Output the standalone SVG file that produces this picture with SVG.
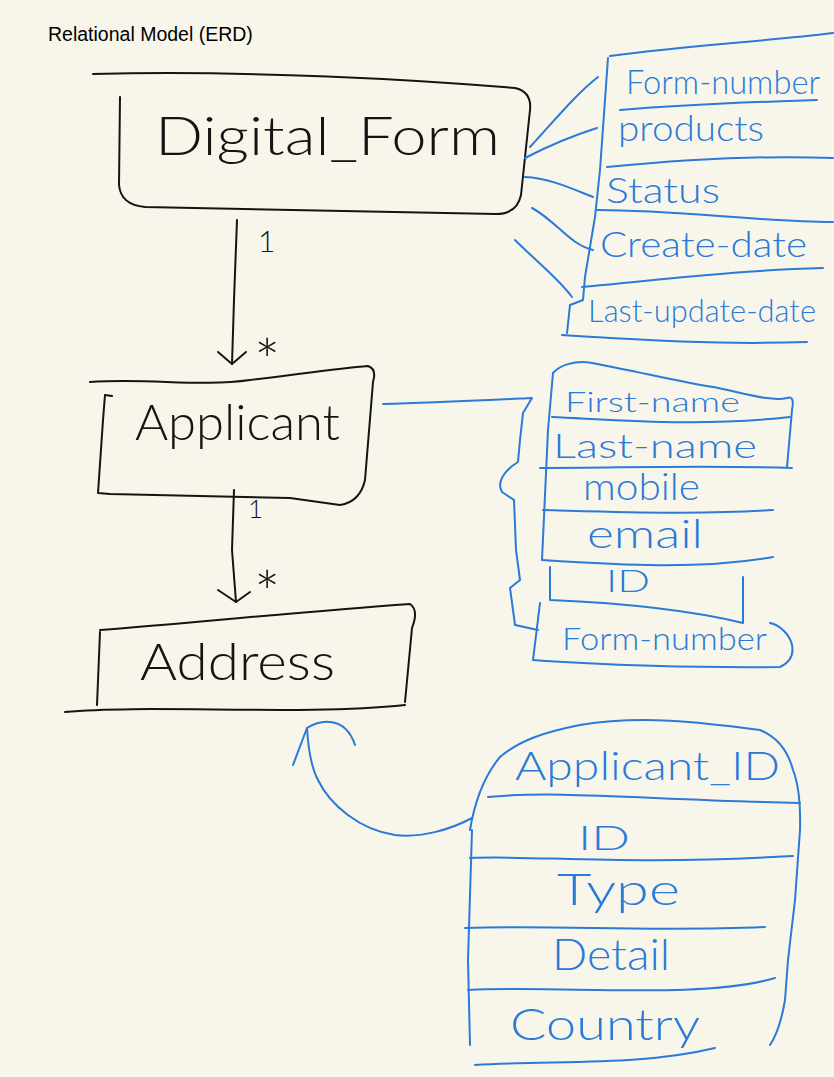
<svg xmlns="http://www.w3.org/2000/svg" width="834" height="1077" viewBox="0 0 834 1077">
<style>
.k{fill:none;stroke:#141414;stroke-width:2;stroke-linecap:round;stroke-linejoin:round}
.b{fill:none;stroke:#2a7ad8;stroke-width:2;stroke-linecap:round;stroke-linejoin:round}
.kt{font-family:Lato,"Liberation Sans",sans-serif;font-weight:300;fill:#141414}
.bt{font-family:Lato,"Liberation Sans",sans-serif;font-weight:300;fill:#2a7ad8}
.title{font-family:"Liberation Sans",Arial,sans-serif;font-size:19.5px;fill:#000}
</style>
<rect width="834" height="1077" fill="#f8f6eb"/>
<text class="title" x="48" y="41">Relational Model (ERD)</text>

<g id="digital_form">
<path class="k" d="M93,74 C250,70 420,80 515,88 Q532,92 530,110 L521,195 Q517,214 496,214 L145,207 Q121,205 119,185 L120,97"/>
<text class="kt" x="155" y="155" font-size="54" textLength="345" lengthAdjust="spacingAndGlyphs">Digital_Form</text>
</g>

<g id="applicant">
<path class="k" d="M90,382 C150,378 200,387 250,380 C300,374 340,368 368,366 Q377,369 373,382 L365,480 Q360,502 340,505 L290,498 L110,494 L98,493 L103,420"/>
<path class="k" d="M112,396 L105,395 L103,420"/>
<text class="kt" x="135" y="440" font-size="50" textLength="205" lengthAdjust="spacingAndGlyphs">Applicant</text>
</g>

<g id="address">
<path class="k" d="M100,630 C200,622 300,612 410,604 Q419,610 412,628 L405,702"/>
<path class="k" d="M100,632 L97,705"/>
<path class="k" d="M65,712 C150,704 300,716 405,705"/>
<text class="kt" x="140" y="680" font-size="52" textLength="195" lengthAdjust="spacingAndGlyphs">Address</text>
</g>

<g id="df_attrs">
<path class="b" d="M610,56 C690,45 760,42 833,33"/>
<path class="b" d="M608,58 L600,170 L595,217 L585,277 L583,300 L570,305 L567,333"/>
<path class="b" d="M620,110 C680,105 750,102 817,100"/>
<path class="b" d="M607,167 C680,160 760,155 833,158"/>
<path class="b" d="M597,210 C680,210 760,222 833,222"/>
<path class="b" d="M582,287 C660,280 740,270 823,268"/>
<path class="b" d="M562,335 C640,340 720,345 807,342"/>
<text class="bt" x="626" y="94" font-size="33" textLength="194" lengthAdjust="spacingAndGlyphs">Form-number</text>
<text class="bt" x="618" y="141" font-size="36" textLength="146" lengthAdjust="spacingAndGlyphs">products</text>
<text class="bt" x="606" y="203" font-size="36" textLength="114" lengthAdjust="spacingAndGlyphs">Status</text>
<text class="bt" x="600" y="257" font-size="36" textLength="207" lengthAdjust="spacingAndGlyphs">Create-date</text>
<text class="bt" x="588" y="322" font-size="32" textLength="228" lengthAdjust="spacingAndGlyphs">Last-update-date</text>
</g>

<g id="app_attrs">
<path class="b" d="M553,373 C560,365 575,360 592,363 C640,372 680,382 713,387 C740,392 770,402 787,398 Q795,395 792,410 L787,467"/>
<path class="b" d="M553,373 L548,430 L542,560"/>
<path class="b" d="M552,417 C620,420 700,427 790,417"/>
<path class="b" d="M540,468 C620,468 700,465 792,468"/>
<path class="b" d="M543,510 C620,512 700,515 773,510"/>
<path class="b" d="M542,560 C620,565 700,570 773,557"/>
<path class="b" d="M550,567 L550,600 C620,603 690,610 743,623 L743,577"/>
<path class="b" d="M540,603 L533,660 C600,665 700,668 780,667 Q795,660 792,645 C790,635 780,625 770,623"/>
<text class="bt" x="565" y="412" font-size="28" textLength="175" lengthAdjust="spacingAndGlyphs">First-name</text>
<text class="bt" x="553" y="458" font-size="33" textLength="204" lengthAdjust="spacingAndGlyphs">Last-name</text>
<text class="bt" x="583" y="500" font-size="38" textLength="117" lengthAdjust="spacingAndGlyphs">mobile</text>
<text class="bt" x="587" y="548" font-size="40" textLength="116" lengthAdjust="spacingAndGlyphs">email</text>
<text class="bt" x="606" y="592" font-size="32" textLength="44" lengthAdjust="spacingAndGlyphs">ID</text>
<text class="bt" x="562" y="650" font-size="32" textLength="205" lengthAdjust="spacingAndGlyphs">Form-number</text>
</g>

<g id="addr_attrs">
<path class="b" d="M470,830 C475,800 485,775 500,757 C520,740 545,732 580,725 C640,715 700,722 760,730 Q785,740 793,770 Q801,790 800,830 L795,900 L788,960 L785,1000 Q780,1030 770,1045"/>
<path class="b" d="M472,830 L468,960 L470,1045"/>
<path class="b" d="M488,797 C560,790 650,800 800,803"/>
<path class="b" d="M470,858 C540,855 620,866 793,856"/>
<path class="b" d="M465,928 C560,925 650,932 765,927"/>
<path class="b" d="M468,990 C560,985 700,1000 775,978"/>
<path class="b" d="M475,1065 C560,1060 640,1066 715,1048"/>
<text class="bt" x="515" y="780" font-size="40" textLength="265" lengthAdjust="spacingAndGlyphs">Applicant_ID</text>
<text class="bt" x="578" y="850" font-size="34" textLength="52" lengthAdjust="spacingAndGlyphs">ID</text>
<text class="bt" x="557" y="905" font-size="44" textLength="123" lengthAdjust="spacingAndGlyphs">Type</text>
<text class="bt" x="552" y="970" font-size="44" textLength="118" lengthAdjust="spacingAndGlyphs">Detail</text>
<text class="bt" x="510" y="1040" font-size="44" textLength="190" lengthAdjust="spacingAndGlyphs">Country</text>
</g>

<g id="connectors">
<path class="k" d="M237,220 L234,300 L232,364"/>
<path class="k" d="M218,352 L232,364 L246,352"/>
<text class="kt" x="258" y="252" font-size="30">1</text>
<text class="kt" x="254" y="384" font-size="62">*</text>
<path class="k" d="M234,490 L232,550 L236,602"/>
<path class="k" d="M218,590 L236,602 L250,592"/>
<text class="kt" x="248" y="518" font-size="26">1</text>
<text class="kt" x="254" y="616" font-size="62">*</text>
<path class="b" d="M530,147 C555,120 575,95 598,77"/>
<path class="b" d="M525,158 C550,145 575,135 597,128"/>
<path class="b" d="M525,177 C550,178 575,190 593,197"/>
<path class="b" d="M532,208 C555,220 570,245 593,250"/>
<path class="b" d="M515,240 C535,260 560,280 572,297"/>
<path class="b" d="M383,404 C430,403 490,400 532,398 L523,413 L520,440 L518,462 C505,470 496,482 502,492 L514,500 L516,550 L520,580 L510,588 L515,625 L538,630"/>
<path class="b" d="M472,818 C450,830 420,838 395,835 C360,830 330,805 318,780 C310,765 308,745 307,728"/>
<path class="b" d="M293,765 L307,728 C320,720 345,715 355,745"/>
</g>
</svg>
